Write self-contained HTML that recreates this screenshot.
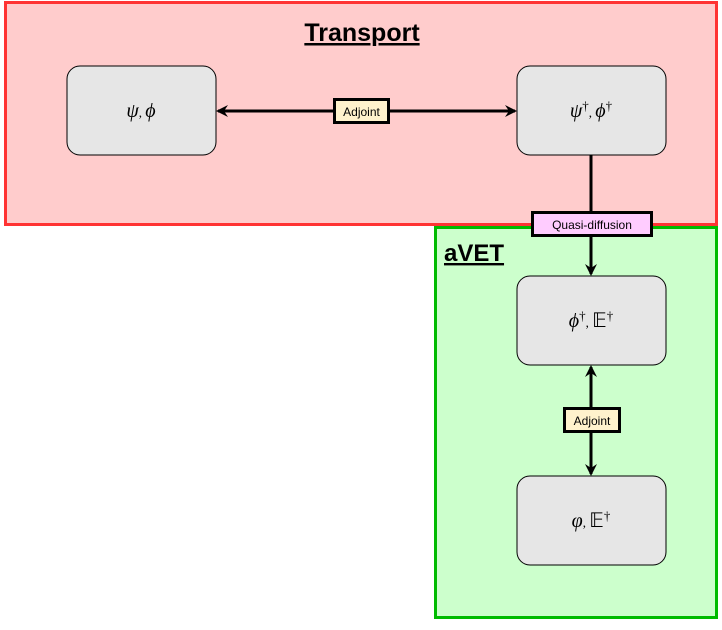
<!DOCTYPE html>
<html><head><style>body{margin:0;background:#fff}</style></head><body>
<svg width="722" height="625" xmlns="http://www.w3.org/2000/svg" font-family="Liberation Sans, sans-serif">
<defs>
<marker id="a" markerWidth="12" markerHeight="12" refX="10" refY="6" orient="auto-start-reverse" markerUnits="userSpaceOnUse">
<path d="M0,0 L12,6 L0,12 L4,6 Z" fill="#000"/></marker>
</defs>
<rect x="5.5" y="2.5" width="711" height="222" fill="#ffcccc" stroke="#ff3333" stroke-width="3"/>
<rect x="435.5" y="227.5" width="281" height="390" fill="#ccffcc" stroke="#00bb00" stroke-width="3"/>
<text x="362" y="41" font-size="25" font-weight="bold" text-anchor="middle" text-decoration="underline">Transport</text>
<text x="444" y="261" font-size="24" font-weight="bold" text-decoration="underline">aVET</text>
<g fill="#e6e6e6" stroke="#000" stroke-width="1">
<rect x="67" y="66" width="149" height="89" rx="13"/>
<rect x="517" y="66" width="149" height="89" rx="13"/>
<rect x="517" y="276" width="149" height="89" rx="13"/>
<rect x="517" y="476" width="149" height="89" rx="13"/>
</g>
<g stroke="#000" stroke-width="3" fill="none">
<line x1="218" y1="111" x2="515" y2="111" marker-start="url(#a)" marker-end="url(#a)"/>
<line x1="591" y1="155" x2="591" y2="274" marker-end="url(#a)"/>
<line x1="591" y1="367" x2="591" y2="474" marker-start="url(#a)" marker-end="url(#a)"/>
</g>
<rect x="334.5" y="99.5" width="54" height="23" fill="#fff2cc" stroke="#000" stroke-width="3"/>
<text x="361.5" y="116" font-size="12" text-anchor="middle">Adjoint</text>
<rect x="532.5" y="212.5" width="119" height="23" fill="#ffccff" stroke="#000" stroke-width="3"/>
<text x="592" y="229" font-size="12" text-anchor="middle">Quasi-diffusion</text>
<rect x="564.5" y="408.5" width="55" height="23" fill="#fff2cc" stroke="#000" stroke-width="3"/>
<text x="592" y="425" font-size="12" text-anchor="middle">Adjoint</text>
<g font-family="Liberation Serif, serif" font-size="20" text-anchor="middle" font-style="italic">
<text x="141" y="117">ψ<tspan font-style="normal" font-size="13">, </tspan>ϕ</text>
<text x="591" y="117">ψ<tspan font-size="13" dy="-7" font-style="normal">†</tspan><tspan dy="7" font-style="normal" font-size="13">, </tspan>ϕ<tspan font-size="13" dy="-7" font-style="normal">†</tspan></text>
<text x="591" y="327">ϕ<tspan font-size="13" dy="-7" font-style="normal">†</tspan><tspan dy="7" font-style="normal" font-size="13">, </tspan><tspan font-style="normal">𝔼</tspan><tspan font-size="13" dy="-7" font-style="normal">†</tspan></text>
<text x="591" y="527">φ<tspan font-style="normal" font-size="13">, </tspan><tspan font-style="normal">𝔼</tspan><tspan font-size="13" dy="-7" font-style="normal">†</tspan></text>
</g>
</svg>
</body></html>
